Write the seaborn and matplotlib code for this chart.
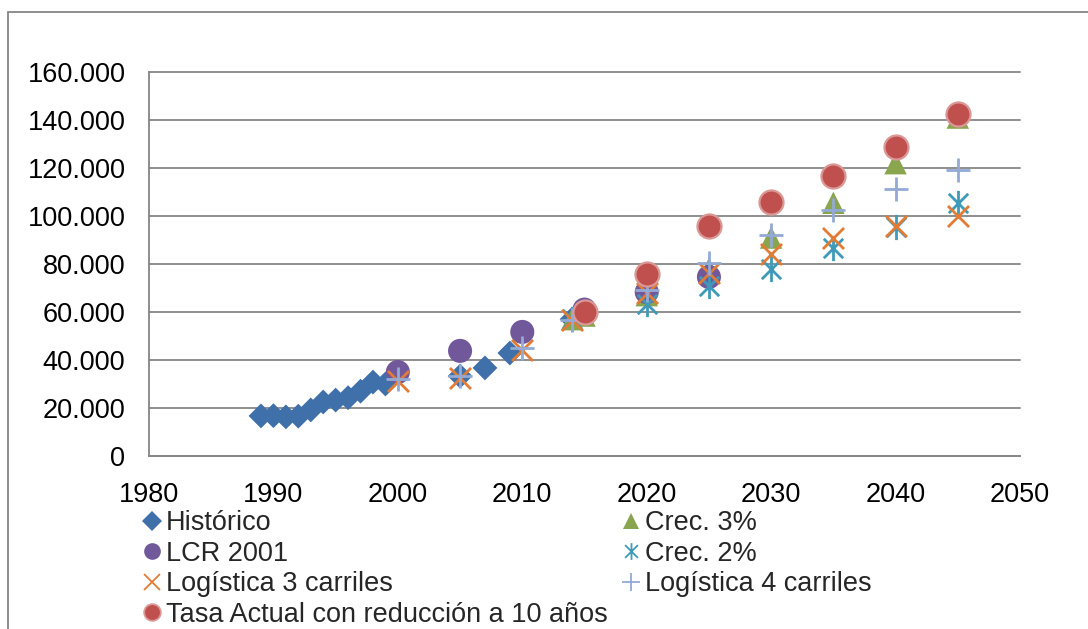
import numpy as np
import pandas as pd
import seaborn as sns
import matplotlib
matplotlib.use("Agg")
import matplotlib.pyplot as plt
from matplotlib.path import Path
from matplotlib.ticker import FuncFormatter, MultipleLocator
from matplotlib.patches import Rectangle

# --- data -----------------------------------------------------------------
hist_years = [1989, 1990, 1991, 1992, 1993, 1994, 1995, 1996, 1997, 1998, 1999,
              2005, 2007, 2009, 2014]
hist_vals = [16700, 16800, 16300, 16600, 19200, 22500, 23300, 24300, 27000, 30800,
             30000, 33300, 36700, 42900, 57000]

crec3_years = [2014, 2015, 2020, 2025, 2030, 2035, 2040, 2045]
crec3_vals = [57000, 58500, 67000, 78000, 91000, 105500, 122000, 141000]

lcr_years = [2000, 2005, 2010, 2015, 2020, 2025]
lcr_vals = [35000, 43800, 51700, 61000, 68300, 74600]

crec2_years = [2014, 2020, 2025, 2030, 2035, 2040, 2045]
crec2_vals = [57000, 63300, 70800, 78000, 86500, 95400, 105300]

log3_years = [2000, 2005, 2010, 2014, 2020, 2025, 2030, 2035, 2040, 2045]
log3_vals = [31300, 32700, 44300, 56800, 67800, 76200, 84300, 91000, 95800, 100000]

log4_years = [2000, 2005, 2010, 2014, 2020, 2025, 2030, 2035, 2040, 2045]
log4_vals = [32000, 33300, 45000, 56800, 69000, 80500, 92000, 102500, 111200, 119000]

tasa_years = [2015, 2020, 2025, 2030, 2035, 2040, 2045]
tasa_vals = [60000, 75800, 95800, 105800, 116700, 128800, 142300]

x_ticks = [1980, 1990, 2000, 2010, 2020, 2030, 2040, 2050]

# --- style ----------------------------------------------------------------
sns.set_theme(style="white")
plt.rcParams["font.family"] = ["Liberation Sans", "DejaVu Sans"]
FS = 19.5
plt.rcParams["font.size"] = FS

GRAY = "#868686"

# asterisk marker: an X with a vertical stroke
ast_path = Path(
    [(-1, -1), (1, 1), (-1, 1), (1, -1), (0, -1.3), (0, 1.3)],
    [Path.MOVETO, Path.LINETO, Path.MOVETO, Path.LINETO, Path.MOVETO, Path.LINETO],
)

series = [
    dict(label="Histórico", x=hist_years, y=hist_vals, marker="D", s=160,
         color="#4070AA", ec="none", lw=0, legend_ms=10),
    dict(label="Crec. 3%", x=crec3_years, y=crec3_vals, marker="^", s=260,
         color="#89A54E", ec="none", lw=0, legend_ms=12),
    dict(label="LCR 2001", x=lcr_years, y=lcr_vals, marker="o", s=300,
         color="#71589A", ec="none", lw=0, legend_ms=12),
    dict(label="Crec. 2%", x=crec2_years, y=crec2_vals, marker=ast_path, s=330,
         color="#3E9AB8", ec="#3E9AB8", lw=2, legend_ms=12),
    dict(label="Logística 3 carriles", x=log3_years, y=log3_vals, marker="x", s=230,
         color="#E27C35", ec="#E27C35", lw=2, legend_ms=12),
    dict(label="Logística 4 carriles", x=log4_years, y=log4_vals, marker="+", s=290,
         color="#93AAD6", ec="#93AAD6", lw=2, legend_ms=13),
    dict(label="Tasa Actual con reducción a 10 años", x=tasa_years, y=tasa_vals,
         marker="o", s=300, color="#C0504D", ec="#DA9896", lw=1.6, legend_ms=12),
]

fig = plt.figure(figsize=(10.88, 6.29), dpi=100)
ax = fig.add_axes([149 / 1088, 1 - 456 / 629, (1020 - 149) / 1088, (456 - 72) / 629])

handles = {}
for i, sr in enumerate(series):
    df = pd.DataFrame({"year": sr["x"], "value": sr["y"]})
    kw = dict(data=df, x="year", y="value", ax=ax, marker=sr["marker"], s=sr["s"],
              zorder=3 + i, legend=False)
    if sr["marker"] in ("x", "+"):
        sns.scatterplot(color=sr["color"], linewidth=sr["lw"], **kw)
    else:
        sns.scatterplot(color=sr["color"], edgecolor=sr["ec"], linewidth=sr["lw"], **kw)
    handles[sr["label"]] = plt.Line2D(
        [], [], linestyle="none", marker=sr["marker"],
        markersize=sr["legend_ms"],
        markerfacecolor=sr["color"],
        markeredgecolor=sr["ec"] if sr["ec"] != "none" else sr["color"],
        markeredgewidth=1.3 if sr["lw"] else 0,
    )

ax.set_xlim(1980, 2050)
ax.set_ylim(0, 160000)
ax.set_xticks(x_ticks)
ax.yaxis.set_major_locator(MultipleLocator(20000))
ax.yaxis.set_major_formatter(
    FuncFormatter(lambda v, _: "0" if v == 0 else f"{int(v):,}".replace(",", ".")))
ax.set_xlabel("")
ax.set_ylabel("")
ax.tick_params(axis="both", length=0, labelsize=FS, colors="black")
ax.tick_params(axis="y", pad=17)
ax.tick_params(axis="x", pad=19)

ax.grid(axis="y", color=GRAY, linewidth=1.3)
ax.grid(axis="x", visible=False)
for gl in ax.get_ygridlines():
    gl.set_clip_on(False)
ax.set_axisbelow(True)
for side in ("top", "right"):
    ax.spines[side].set_visible(False)
for side in ("left", "bottom"):
    ax.spines[side].set_color(GRAY)
    ax.spines[side].set_linewidth(1.3)

# chart outer border
fig.patches.append(Rectangle((8 / 1088, -0.2), 1.2, 1.2 - 12 / 629,
                             transform=fig.transFigure, fill=False,
                             edgecolor=GRAY, linewidth=1.3, clip_on=False))

order = ["Histórico", "LCR 2001", "Logística 3 carriles",
         "Tasa Actual con reducción a 10 años",
         "Crec. 3%", "Crec. 2%", "Logística 4 carriles"]
fig.legend([handles[k] for k in order], order, loc="upper left",
           bbox_to_anchor=(145 / 1088, 1 - 510 / 629), ncol=2, frameon=False,
           fontsize=FS, borderpad=0, handlelength=0.55, handletextpad=0.22,
           labelspacing=0.17, columnspacing=0.6, borderaxespad=0)

fig.savefig("out.png", dpi=100)
